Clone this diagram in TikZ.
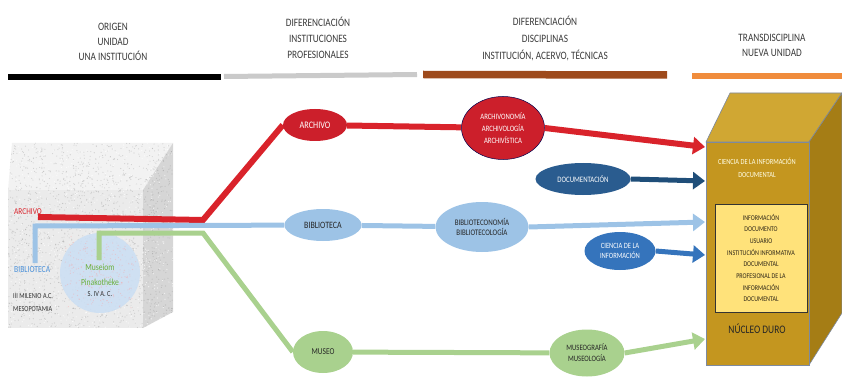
\documentclass[tikz,border=0pt]{standalone}
\usepackage{fontspec}
\setmainfont{Carlito}[FakeStretch=0.82]
\usetikzlibrary{arrows.meta,shapes.geometric}
\pgfdeclarelayer{bg}
\pgfdeclarelayer{mid}
\pgfsetlayers{bg,mid,main}

\definecolor{hdrtext}{HTML}{3A3A3A}
\definecolor{barbrown}{HTML}{9E4A1C}
\definecolor{barorange}{HTML}{F08C3C}
\definecolor{bargray}{HTML}{CACACA}
\definecolor{redline}{HTML}{D9232B}
\definecolor{redfill}{HTML}{CC1F2B}
\definecolor{lblue}{HTML}{9DC3E6}
\definecolor{navy}{HTML}{2A5C8F}
\definecolor{navyline}{HTML}{1F4E79}
\definecolor{midblue}{HTML}{3574BC}
\definecolor{lgreen}{HTML}{A9D18E}
\definecolor{stonefront}{HTML}{EBEBEB}
\definecolor{stonetop}{HTML}{F2F2F2}
\definecolor{stoneside}{HTML}{D6D6D6}
\definecolor{circblue}{HTML}{CCDFF3}
\definecolor{goldfront}{HTML}{C4961F}
\definecolor{goldtop}{HTML}{D0A733}
\definecolor{goldside}{HTML}{A57D15}
\definecolor{goldedge}{HTML}{7D8AA0}
\definecolor{innerfill}{HTML}{FFE27A}
\definecolor{coretext}{HTML}{2E2618}
\definecolor{bibblue}{HTML}{4A90D9}
\definecolor{musgreen}{HTML}{6AAF3A}

\tikzset{
  hdr/.style={align=center, text=hdrtext, font=\fontsize{11.3}{15}\selectfont, inner sep=0pt},
  oval/.style={ellipse, inner sep=0pt, align=center},
  tipstyle/.style={-{Triangle[length=12pt,width=17pt]}},
  small/.style={font=\fontsize{8.3}{10}\selectfont},
}

\begin{document}
\begin{tikzpicture}[x=1pt,y=-1pt]
\useasboundingbox (0,0) rectangle (842,382);

% ---------- column headers ----------
\node[hdr] (h1) at (113,42) {ORIGEN\\UNIDAD\\UNA INSTITUCIÓN};
\node[hdr, font=\fontsize{11.3}{16}\selectfont] (h2) at (318,38) {DIFERENCIACIÓN\\INSTITUCIONES\\PROFESIONALES};
\node[hdr, font=\fontsize{11.3}{17}\selectfont] (h3) at (545,39) {DIFERENCIACIÓN\\DISCIPLINAS\\INSTITUCIÓN, ACERVO, TÉCNICAS};
\node[hdr] (h4) at (772,45) {TRANSDISCIPLINA\\NUEVA UNIDAD};

\draw[line width=6pt, black] (8,77) -- (221,77);
\draw[line width=5pt, bargray] (224,76.5) -- (417,74.5);
\draw[line width=7.5pt, barbrown] (423,74.5) -- (667,75);
\draw[line width=6pt, barorange] (692,76) -- (842,76);

% ---------- stone block ----------
\begin{pgfonlayer}{bg}
  \fill[stonefront] (8,190) rectangle (143,328);
  \fill[stonetop] (8,190) -- (12,143) -- (173,143) -- (143,190) -- cycle;
  \fill[stoneside] (143,190) -- (173,143) -- (173,312) -- (143,328) -- cycle;
  \begin{scope}
    \clip (8,328) -- (8,190) -- (12,143) -- (173,143) -- (173,312) -- (143,328) -- cycle;
    \pgfmathsetseed{11}
    \foreach \k in {1,...,1800}{
      \fill[black!50, opacity=.3] ({8+165*rnd},{143+185*rnd}) circle (0.55);
    }
    \foreach \k in {1,...,700}{
      \fill[white, opacity=.7] ({8+165*rnd},{143+185*rnd}) circle (0.6);
    }
  \end{scope}
  \fill[circblue, opacity=.9] (100,273) circle (40);
  \pgfmathsetseed{5}
  \foreach \k in {1,...,220}{
    \fill[red!40, opacity=.35] ({100+37*sqrt(rnd)*cos(360*rnd)},{273+37*sqrt(rnd)*sin(360*rnd)}) circle (0.6);
  }
\end{pgfonlayer}

% ---------- core block ----------
\fill[goldtop, draw=goldedge, line width=0.6pt] (706,142) -- (730,93) -- (842,93) -- (809,142) -- cycle;
\fill[goldside, draw=goldedge, line width=0.6pt] (809,142) -- (842,93) -- (842,313) -- (809,365) -- cycle;
\node[draw=goldedge, line width=0.6pt, fill=goldfront, minimum width=103pt, minimum height=223pt,
      inner sep=0pt, anchor=north west] (core) at (706,142) {};
\node[align=center, text=white!90!yellow, font=\fontsize{7.8}{13}\selectfont, inner sep=0pt]
  (cid) at (757,168) {CIENCIA DE LA INFORMACIÓN\\DOCUMENTAL};
\node[draw=black!80, line width=0.6pt, fill=innerfill, minimum width=92pt, minimum height=108pt,
      inner sep=0pt, align=center, text=coretext, font=\fontsize{7.3}{11.7}\selectfont]
  (inner) at (761,258) {INFORMACIÓN\\DOCUMENTO\\USUARIO\\INSTITUCIÓN INFORMATIVA\\DOCUMENTAL\\PROFESIONAL DE LA\\INFORMACIÓN\\DOCUMENTAL};
\node[text=black!85, font=\fontsize{11.5}{14}\selectfont, inner sep=0pt] (nucleo) at (757,329) {NÚCLEO DURO};

% ---------- ellipses ----------
\node[oval, fill=redfill, text=white, minimum width=64pt, minimum height=32pt,
      font=\fontsize{10}{12}\selectfont] (archivo) at (315,125) {ARCHIVO};
\node[oval, fill=redfill, draw=blue!30!black, line width=0.5pt, text=white, minimum width=83pt,
      minimum height=63pt, font=\fontsize{8.2}{12}\selectfont] (archivonomia) at (503,128)
      {ARCHIVONOMÍA\\ARCHIVOLOGÍA\\ARCHIVÍSTICA};
\node[oval, fill=lblue, text=black!85, minimum width=77pt, minimum height=32pt,
      font=\fontsize{9.7}{11}\selectfont] (biblioteca) at (323,225) {BIBLIOTECA};
\node[oval, fill=lblue, text=black!85, minimum width=93pt, minimum height=50pt,
      font=\fontsize{8.5}{9.8}\selectfont] (bibliotec) at (482,227) {BIBLIOTECONOMÍA\\BIBLIOTECOLOGÍA};
\node[oval, fill=navy, text=white, minimum width=95pt, minimum height=32pt, small]
      (documentacion) at (583,179) {DOCUMENTACIÓN};
\node[oval, fill=midblue, text=white, minimum width=71pt, minimum height=38pt,
      font=\fontsize{8}{10.5}\selectfont] (ciencia) at (620,251) {CIENCIA DE LA\\INFORMACIÓN};
\node[oval, fill=lgreen, text=black!85, minimum width=60pt, minimum height=42pt,
      font=\fontsize{9}{10}\selectfont] (museo) at (323,352) {MUSEO};
\node[oval, fill=lgreen, text=black!85, minimum width=75pt, minimum height=47pt,
      font=\fontsize{8.2}{11}\selectfont] (museografia) at (587,353) {MUSEOGRAFÍA\\MUSEOLOGÍA};

% ---------- labels on the stone block ----------
\node[anchor=west, text=redline, font=\fontsize{9}{10}\selectfont, inner sep=0pt] (lblarch) at (14,212) {ARCHIVO};
\node[anchor=west, text=bibblue, font=\fontsize{9.3}{10}\selectfont, inner sep=0pt] (lblbib) at (14,270) {BIBLIOTECA};
\node[align=center, text=musgreen, font=\fontsize{9.3}{15}\selectfont, inner sep=0pt] (lblmus) at (100,274.5) {Museiom\\Pinakothéke};
\node[text=black!80, font=\fontsize{7.8}{8}\selectfont, inner sep=0pt] (lblsiv) at (100,293.5) {S. IV A. C.};
\node[anchor=west, align=left, text=black!80, font=\fontsize{7.6}{13}\selectfont, inner sep=0pt]
  (lblmes) at (13,302.5) {III MILENIO A.C.\\MESOPOTAMIA};

% ---------- connector coordinates ----------
\coordinate (rStart) at (38,217);
\coordinate (rFork) at (203,220);
\coordinate (bStart) at (35,263);
\coordinate (bTurn) at (35,226);
\coordinate (gStart) at (99,260);
\coordinate (gTurn) at (99,233);
\coordinate (gFork) at (203,233);
\coordinate (tipRed) at (705,147);
\coordinate (tipNavy) at (705,181);
\coordinate (tipLight) at (705,222);
\coordinate (tipMid) at (705,255);
\coordinate (tipGreen) at (705,339);

% ---------- connectors ----------
\begin{pgfonlayer}{mid}
  \draw[redline, line width=6pt, line join=miter] (rStart) -- (rFork) -- (archivo.west);
  \draw[redline, line width=6pt] (archivo) -- (archivonomia);
  \draw[lblue, line width=5pt, line join=miter] (bStart) -- (bTurn) -- (biblioteca);
  \draw[lblue, line width=5pt] (biblioteca) -- (bibliotec);
  \draw[lgreen, line width=5pt, line join=miter] (gStart) -- (gTurn) -- (gFork) -- (museo.west);
  \draw[lgreen, line width=5pt] (museo) -- (museografia);
\end{pgfonlayer}

\draw[redline, line width=6pt, tipstyle] (archivonomia.east) -- (tipRed);
\draw[navyline, line width=5pt, tipstyle] (documentacion.east) -- (tipNavy);
\draw[lblue, line width=5pt, tipstyle] (bibliotec.east) -- (tipLight);
\draw[midblue, line width=5pt, tipstyle] (ciencia.east) -- (tipMid);
\draw[lgreen, line width=5pt, tipstyle] (museografia.east) -- (tipGreen);

\end{tikzpicture}
\end{document}
